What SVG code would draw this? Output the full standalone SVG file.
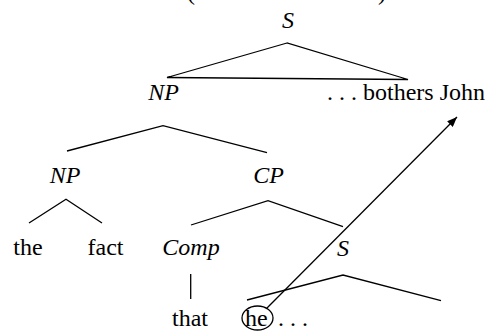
<svg xmlns="http://www.w3.org/2000/svg" width="499" height="331" viewBox="0 0 499 331">
<defs>
<style>
.t{font-family:"Liberation Serif","Times New Roman",serif;font-size:24px;fill:#000}
.i{font-style:italic}
.m{text-anchor:middle}
.l{stroke:#000;stroke-width:1.3;fill:none}
</style>
<marker id="ah" viewBox="0 0 10 8" refX="10" refY="4" markerWidth="10" markerHeight="8" markerUnits="userSpaceOnUse" orient="auto">
<path d="M0,0 L10,4 L0,8 Z" fill="#000"/>
</marker>
</defs>
<rect width="499" height="331" fill="#fff"/>
<text class="t" x="20" y="0.3" textLength="366" lengthAdjust="spacing">the Sentence (the antecedent)</text>
<g id="S-top"><text class="t i m" x="288" y="28">S</text></g>
<g id="NP1"><text class="t i m" x="163.5" y="100">NP</text></g>
<g id="bothers"><text class="t" x="327" y="100">. . . bothers John</text></g>
<g id="NP2"><text class="t i m" x="65" y="183">NP</text></g>
<g id="CP"><text class="t i m" x="268.5" y="183">CP</text></g>
<g id="the"><text class="t m" x="28" y="255">the</text></g>
<g id="fact"><text class="t m" x="105.5" y="255">fact</text></g>
<g id="Comp"><text class="t i m" x="191" y="255">Comp</text></g>
<g id="S-low"><text class="t i m" x="343" y="256">S</text></g>
<g id="that"><text class="t m" x="190" y="326">that</text></g>
<g id="he"><text class="t" x="245" y="326">he</text><ellipse class="l" cx="257.5" cy="318" rx="15.5" ry="12"/><text class="t" x="278" y="326">. . .</text></g>
<g id="connectors">
<path class="l" d="M287,43 L167,77.5 L408,79.5 Z"/>
<path class="l" d="M67,151 L163,125.7 L267,152.7"/>
<path class="l" d="M29,223 L66,199.3 L102,223"/>
<path class="l" d="M191,225 L268,200.7 L343,226.7"/>
<path class="l" d="M190.7,274 L190.7,299"/>
<path class="l" d="M247,300 L343,275 L441,300.7"/>
<path class="l" d="M267,308 L457,117" marker-end="url(#ah)"/>
</g>
</svg>
